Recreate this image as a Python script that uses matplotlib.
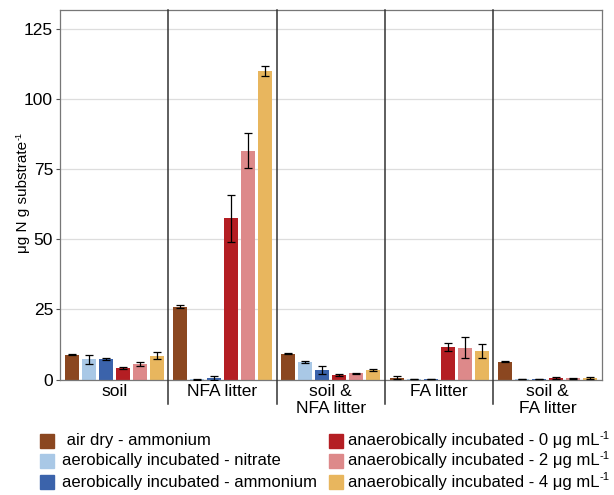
import numpy as np
import matplotlib.pyplot as plt
from matplotlib.patches import Rectangle

plt.rcParams['font.family'] = ['Liberation Sans', 'DejaVu Sans']

groups = ["soil", "NFA litter", "soil &\nNFA litter", "FA litter", "soil &\nFA litter"]
series = ["air dry - ammonium",
          "aerobically incubated - nitrate",
          "aerobically incubated - ammonium",
          "anaerobically incubated - 0 \u03bcg mL",
          "anaerobically incubated - 2 \u03bcg mL",
          "anaerobically incubated - 4 \u03bcg mL"]
sups = ["", "", "", "-1", "-1", "-1"]
colors = ["#8b4720", "#a9c8e6", "#3b63ab", "#b41e23", "#dd898a", "#e8b65e"]

# rows = series, columns = groups
means = [[8.9, 26.0, 9.2, 0.7, 6.4],
         [7.3, 0.1, 6.3, 0.1, 0.1],
         [7.3, 0.5, 3.4, 0.1, 0.1],
         [4.1, 57.5, 1.5, 11.6, 0.5],
         [5.5, 81.7, 2.3, 11.4, 0.4],
         [8.5, 110.0, 3.4, 10.1, 0.6]]
errs = [[0.3, 0.6, 0.2, 0.4, 0.2],
        [1.6, 0.1, 0.4, 0.0, 0.0],
        [0.3, 0.6, 1.3, 0.0, 0.0],
        [0.4, 8.3, 0.4, 1.3, 0.3],
        [0.6, 6.1, 0.2, 3.7, 0.2],
        [1.3, 1.8, 0.5, 2.4, 0.3]]

W, H = 614, 495
fig = plt.figure(figsize=(W / 100, H / 100), dpi=100)
ax = fig.add_axes([0.0977, 0.2333, 0.8823, 0.7475])
renderer = fig.canvas.get_renderer()

n = len(series)
step = 0.157
width = 0.13
for i in range(n):
    x = np.arange(len(groups)) + (i - (n - 1) / 2) * step
    ax.bar(x, means[i], width=width, color=colors[i], zorder=2)
    ax.errorbar(x, means[i], yerr=errs[i], fmt='none', ecolor='black',
                elinewidth=0.9, capsize=3, capthick=0.9, zorder=3)

ax.set_xlim(-0.5, len(groups) - 0.5)
ax.set_ylim(0, 132)
ax.set_yticks([0, 25, 50, 75, 100, 125])
ax.yaxis.grid(True, color='#dddddd', linewidth=0.9, zorder=0)
ax.set_axisbelow(True)
ax.tick_params(axis='y', labelsize=12.5, length=3, color='#555555', pad=2)
ax.tick_params(axis='x', length=0, labelbottom=False)
for s in ax.spines.values():
    s.set_color('#777777')
    s.set_linewidth(0.9)

# panel separators reaching below the axis
trans = ax.get_xaxis_transform()
for k in range(1, len(groups)):
    ax.plot([k - 0.5, k - 0.5], [-0.065, 1], color='#333333', lw=1.1,
            transform=trans, clip_on=False, zorder=4)
for k, g in enumerate(groups):
    ax.text(k, -0.013, g, transform=trans, ha='center', va='top',
            fontsize=12.5, linespacing=1.1)

# y label with a small superscript
yl = fig.text(23 / W, (H - 197) / H, "\u03bcg N g substrate", rotation=90,
              ha='center', va='center', fontsize=11)
bb = yl.get_window_extent(renderer)
fig.text((bb.x0 - 1) / W, (bb.y1 + 1) / H, "-1", rotation=90,
         ha='left', va='bottom', fontsize=6.5)

# legend, two columns of three
sq_x = [40, 329]
text_x = [62, 348]
row_y = [441, 461, 482]
sq = 14
for i in range(n):
    c, r = i // 3, i % 3
    fig.patches.append(Rectangle((sq_x[c] / W, (H - row_y[r] - sq / 2) / H),
                                 sq / W, sq / H, color=colors[i],
                                 transform=fig.transFigure))
    lab = (" " + series[i]) if i == 0 else series[i]
    t = fig.text(text_x[c] / W, (H - row_y[r]) / H, lab, ha='left',
                 va='center', fontsize=12)
    if sups[i]:
        tb = t.get_window_extent(renderer)
        fig.text(tb.x1 / W, (H - row_y[r] + 5) / H, sups[i], ha='left',
                 va='center', fontsize=8)

fig.savefig("out.png", dpi=100)
